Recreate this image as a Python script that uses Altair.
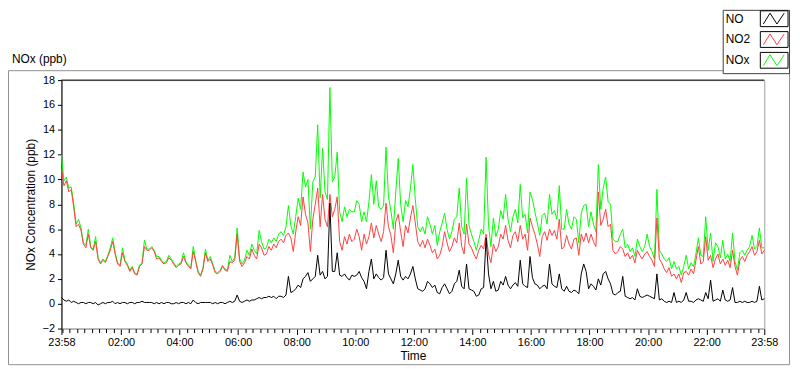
import altair as alt
import pandas as pd

# ---------------- data (5-minute samples from 23:58 to 23:58) ----------------
step_minutes = 5

no2_values = [
    10.8, 9.5, 9.9, 9.0, 9.2, 7.8, 6.2, 6.4, 5.9, 4.8, 4.5, 5.6,
    4.5, 4.3, 5.0, 3.6, 3.2, 3.5, 3.3, 3.8, 4.3, 5.0, 4.0, 3.2,
    3.0, 4.1, 3.4, 3.1, 2.6, 2.9, 2.4, 2.3, 3.0, 3.2, 4.6, 4.3,
    4.3, 4.5, 4.2, 3.6, 3.7, 3.4, 3.2, 3.3, 3.7, 3.5, 3.2, 2.9,
    3.1, 3.2, 3.8, 3.3, 3.0, 2.8, 4.2, 3.4, 2.5, 2.2, 2.8, 4.1,
    3.4, 3.6, 3.1, 2.5, 2.4, 2.6, 3.0, 2.7, 2.6, 3.4, 3.3, 3.5,
    5.6, 3.4, 3.0, 3.3, 3.8, 3.6, 4.4, 3.9, 3.6, 4.8, 4.5, 3.9,
    4.0, 4.6, 4.3, 4.8, 4.5, 5.0, 5.2, 4.9, 5.5, 5.7, 5.3, 4.2,
    5.8, 7.0, 6.3, 8.6, 7.2, 6.5, 4.2, 6.8, 8.0, 9.3, 6.2, 8.8,
    6.8, 6.2, 8.8, 7.0, 7.6, 8.6, 5.0, 4.3, 5.4, 4.8, 5.6, 5.0,
    5.2, 6.0, 5.4, 4.3, 5.6, 4.8, 5.4, 6.5, 5.3, 6.3, 5.6, 5.0,
    5.8, 8.1, 6.2, 5.5, 4.1, 6.6, 7.2, 5.8, 4.6, 6.3, 5.7, 6.9,
    7.9, 6.5, 5.0, 4.6, 5.1, 4.5, 5.2, 4.7, 4.1, 4.4, 3.6, 3.9,
    4.6, 5.8, 4.9, 4.2, 4.6, 5.3, 4.9, 6.5, 4.6, 4.0, 6.4, 4.8,
    4.5, 4.0, 3.6, 4.3, 4.7, 4.4, 5.6, 4.0, 3.3, 4.8, 4.2, 4.6,
    5.6, 5.2, 6.3, 5.1, 4.5, 5.5, 5.8, 5.0, 6.3, 5.2, 5.6, 4.3,
    6.9, 6.2, 5.6, 4.8, 3.8, 5.4, 5.8, 5.1, 6.0, 5.5, 5.9, 5.2,
    6.8, 4.4, 4.6, 5.5, 4.8, 4.4, 5.2, 5.3, 3.9, 5.6, 5.0, 5.7,
    4.9, 5.6, 5.0, 4.6, 9.0, 6.3, 6.8, 7.6, 6.2, 6.4, 4.3, 4.0,
    4.2, 4.6, 4.4, 3.8, 4.1, 3.6, 3.9, 3.3, 4.3, 3.9, 3.6, 4.0,
    4.2, 3.8, 3.5, 3.0, 6.9, 3.6, 3.3, 2.8, 2.5, 2.9, 2.2, 2.4,
    2.0, 2.4, 1.7, 2.5, 2.6, 2.3, 2.8, 2.4, 3.5, 4.6, 3.2, 3.4,
    5.4, 3.5, 3.9, 2.9, 3.6, 4.0, 3.2, 3.6, 3.1, 3.5, 2.9, 4.3,
    3.0, 2.3, 3.5, 3.8, 3.4, 3.9, 4.2, 4.6, 3.9, 4.2, 5.1, 4.0,
    4.3,
]

nox_values = [
    12.0, 9.9, 10.2, 9.3, 9.4, 8.1, 6.4, 6.8, 6.1, 4.9, 4.7, 6.0,
    4.6, 4.4, 5.4, 3.7, 3.3, 3.6, 3.4, 3.9, 4.5, 5.3, 4.1, 3.3,
    3.1, 4.5, 3.5, 3.2, 2.7, 3.0, 2.5, 2.4, 3.1, 3.3, 5.1, 4.4,
    4.4, 4.6, 4.3, 3.8, 3.8, 3.5, 3.3, 3.4, 3.9, 3.6, 3.3, 3.0,
    3.2, 3.3, 4.1, 3.4, 3.1, 2.9, 4.6, 3.5, 2.6, 2.3, 2.9, 4.4,
    3.5, 3.8, 3.2, 2.6, 2.5, 2.7, 3.1, 2.8, 2.7, 3.9, 3.4, 3.7,
    6.1, 3.6, 3.2, 3.5, 4.3, 3.9, 4.8, 4.3, 4.0, 5.9, 5.0, 4.4,
    4.5, 5.2, 4.9, 5.3, 5.0, 5.6, 5.8, 5.5, 6.2, 7.9, 6.3, 5.6,
    7.0, 8.5, 7.6, 10.6, 9.4, 10.0, 6.0, 9.8, 10.2, 14.4, 8.5, 12.5,
    9.0, 8.4, 17.4, 9.8, 10.2, 12.2, 7.4, 6.6, 7.8, 7.0, 7.6, 7.4,
    7.4, 8.3, 8.0, 6.6, 7.4, 6.6, 8.2, 10.4, 8.0, 9.9, 7.8, 7.6,
    7.9, 12.6, 8.6, 7.5, 6.0, 9.0, 11.7, 8.0, 6.6, 8.3, 7.8, 9.3,
    11.2, 8.4, 6.2, 5.8, 6.2, 5.6, 7.0, 6.4, 5.6, 6.3, 4.7, 5.8,
    6.5, 7.3, 6.0, 5.2, 5.8, 6.8, 7.0, 9.3, 6.2, 5.6, 10.1, 6.3,
    5.6, 5.0, 4.3, 5.1, 6.0, 5.6, 11.8, 6.3, 4.6, 6.9, 5.4, 6.0,
    7.5, 6.8, 8.8, 6.8, 5.8, 7.0, 7.6, 6.5, 9.6, 6.9, 7.2, 5.7,
    9.0, 8.4, 7.4, 6.5, 5.5, 7.1, 7.3, 6.4, 8.8, 7.2, 7.5, 6.8,
    9.5, 6.0, 6.0, 7.6, 6.4, 6.0, 7.0, 6.8, 4.9, 7.3, 7.9, 8.0,
    6.2, 7.4, 6.4, 5.8, 11.2, 7.6, 9.3, 10.2, 8.2, 8.0, 5.2, 5.0,
    5.0, 5.6, 6.0, 4.5, 4.8, 4.2, 4.5, 3.8, 5.2, 4.6, 4.2, 4.6,
    5.6, 4.6, 4.2, 3.6, 9.2, 4.3, 4.0, 3.6, 3.4, 3.7, 2.8, 3.4,
    2.8, 3.0, 2.3, 3.0, 3.9, 2.8, 3.3, 3.0, 4.0, 5.3, 3.9, 3.8,
    7.0, 4.3, 5.7, 3.4, 4.9, 4.6, 3.7, 5.1, 3.6, 4.0, 3.4, 5.7,
    3.4, 2.7, 4.1, 4.3, 3.9, 4.3, 4.6, 5.5, 4.4, 4.6, 6.1, 4.5,
    4.5,
]

no_values = [
    0.5, 0.3, 0.2, 0.3, 0.1, 0.2, 0.1, 0.0, 0.1, 0.1, 0.0, 0.1,
    0.1, 0.0, 0.1, -0.1, 0.0, 0.1, 0.0, 0.1, 0.1, 0.2, 0.0, 0.1,
    0.0, 0.1, 0.1, 0.0, 0.1, 0.1, 0.0, 0.1, 0.1, 0.2, 0.1, 0.1,
    0.1, 0.1, 0.0, 0.1, 0.0, 0.1, 0.0, 0.1, 0.1, 0.0, 0.0, 0.1,
    0.0, 0.1, 0.1, 0.0, 0.1, 0.0, 0.3, 0.1, 0.0, 0.1, 0.1, 0.1,
    0.1, 0.1, 0.0, 0.1, 0.0, 0.1, 0.1, 0.0, 0.1, 0.2, 0.1, 0.2,
    0.7, 0.2, 0.1, 0.2, 0.3, 0.2, 0.3, 0.3, 0.4, 0.5, 0.4, 0.5,
    0.5, 0.6, 0.5, 0.6, 0.4, 0.6, 0.6, 0.5, 0.7, 2.2, 0.9, 1.0,
    1.2, 1.5, 1.3, 2.0, 2.2, 2.5, 1.8, 2.0, 2.2, 3.9, 2.3, 2.6,
    2.0, 2.2, 8.1, 2.6, 2.6, 4.1, 2.3, 2.2, 2.4, 2.1, 1.9, 2.3,
    2.2, 2.3, 2.6, 2.1, 1.8, 1.2, 2.6, 3.6, 2.0, 2.4, 2.1, 1.9,
    2.1, 4.3, 2.4, 2.0, 1.6, 2.4, 3.5, 2.2, 1.9, 2.2, 2.0, 2.4,
    3.0, 2.0, 1.2, 1.1, 1.0, 1.2, 1.8, 1.6, 1.3, 1.5, 0.9, 0.8,
    1.3, 1.6, 1.2, 0.8, 1.0, 1.6, 1.8, 2.7, 1.4, 1.2, 3.2, 1.2,
    1.1, 1.0, 0.6, 0.7, 1.2, 1.3, 5.3, 2.4, 1.2, 1.8, 1.0, 1.1,
    1.8, 1.5, 2.2, 1.5, 1.2, 1.5, 1.7, 1.4, 3.5, 1.6, 1.4, 1.3,
    3.8, 2.1, 1.6, 1.5, 1.2, 1.4, 1.5, 1.2, 3.2, 1.6, 1.4, 1.3,
    2.4, 1.2, 1.0, 1.4, 1.0, 0.9, 1.1, 1.0, 0.8, 2.4, 3.2, 2.6,
    1.2, 1.6, 1.4, 1.1, 2.0, 1.5, 2.4, 2.6, 2.0, 1.6, 0.8, 0.7,
    0.9, 1.0, 2.2, 0.6, 0.5, 0.4, 0.5, 0.3, 1.2, 0.6, 0.5, 0.6,
    0.7, 0.6, 0.5, 0.4, 2.4, 0.3, 0.4, 0.2, 0.1, 0.2, 0.1, 0.9,
    0.1, 0.2, 0.1, 0.3, 0.9, 0.2, 0.2, 0.1, 0.3, 0.4, 0.3, 0.2,
    0.9, 0.4, 1.9, 0.2, 0.3, 0.4, 0.2, 1.1, 0.3, 0.2, 0.3, 1.3,
    0.1, 0.1, 0.2, 0.1, 0.2, 0.1, 0.1, 0.2, 0.1, 0.2, 1.4, 0.3,
    0.4,
]

series_names = ["NO", "NO2", "NOx"]
series_colors = ["#000000", "#ff4040", "#00ff00"]

major_tick_labels = ["23:58", "02:00", "04:00", "06:00", "08:00", "10:00", "12:00",
                     "14:00", "16:00", "18:00", "20:00", "22:00", "23:58"]
y_tick_values = [-2, 0, 2, 4, 6, 8, 10, 12, 14, 16, 18]

chart_title = "NOx (ppb)"
x_title = "Time"
y_title = "NOx Concentration (ppb)"

# ---------------- derived helpers ----------------
start_clock = 23 * 60 + 58
span = 24 * 60


def clock_to_offset(label, is_last):
    h, m = label.split(":")
    off = (int(h) * 60 + int(m) - start_clock) % span
    if is_last and off == 0:
        off = span
    return off


major_pos = [clock_to_offset(lab, i == len(major_tick_labels) - 1)
             for i, lab in enumerate(major_tick_labels)]
minor_pos = sorted({(q * 15 - start_clock) % span for q in range(96)} - set(major_pos))

label_expr = "[{}][indexof([{}], datum.value)]".format(
    ",".join("'{}'".format(s) for s in major_tick_labels),
    ",".join(str(p) for p in major_pos),
)

t_values = [i * step_minutes for i in range(len(no2_values))]
df_no2 = pd.DataFrame({"t": t_values, "v": no2_values})
df_nox = pd.DataFrame({"t": t_values, "v": nox_values})
df_no = pd.DataFrame({"t": t_values, "v": no_values})
legend_df = pd.DataFrame({"name": series_names, "color": series_colors})
one_row = pd.DataFrame({"k": [0]})

FONT = "Liberation Sans"
W, H = 710, 251

x_scale = alt.Scale(domain=[0, span], nice=False, zero=False)
y_scale = alt.Scale(domain=[-2, 18], nice=False, zero=False)

major_axis = alt.Axis(
    values=major_pos, labelExpr=label_expr, orient="bottom",
    tickSize=6, tickColor="black", tickWidth=1,
    domainColor="#a0a0a0", labelFontSize=11, labelColor="black",
    labelPadding=2, labelFlush=False, labelOverlap=False, grid=False,
    title=x_title, titleFontSize=12, titleFontWeight="normal",
    titleColor="black", titlePadding=3,
)
minor_axis = alt.Axis(
    values=minor_pos, labels=False, orient="bottom", tickSize=4,
    tickColor="black", domain=False, grid=False, title=None,
)
y_axis = alt.Axis(
    values=y_tick_values, tickSize=4, tickColor="black", domainColor="black",
    labelFontSize=11, labelColor="black", labelPadding=3, grid=False,
    title=y_title, titleFontSize=12, titleFontWeight="normal",
    titleColor="black", titlePadding=5,
)

frame = alt.Chart(one_row).mark_rect(fillOpacity=0, stroke="#909090", strokeWidth=1).encode(
    x=alt.value(-53.5), x2=alt.value(735.5), y=alt.value(-9.5), y2=alt.value(287.5)
)

green = alt.Chart(df_nox).mark_line(color=series_colors[2], strokeWidth=1).encode(
    x=alt.X("t:Q", scale=x_scale, axis=major_axis),
    y=alt.Y("v:Q", scale=y_scale, axis=y_axis),
)
red = alt.Chart(df_no2).mark_line(color=series_colors[1], strokeWidth=1).encode(
    x=alt.X("t:Q", scale=x_scale, axis=minor_axis),
    y=alt.Y("v:Q", scale=y_scale, axis=None),
)
black = alt.Chart(df_no).mark_line(color=series_colors[0], strokeWidth=1).encode(
    x=alt.X("t:Q", scale=x_scale, axis=None),
    y=alt.Y("v:Q", scale=y_scale, axis=None),
)

top_rule = alt.Chart(one_row).mark_rule(color="black", strokeWidth=1).encode(
    x=alt.value(0), x2=alt.value(W), y=alt.value(0)
)

legend_box = alt.Chart(one_row).mark_rect(fill="white", stroke="#404040", strokeWidth=1).encode(
    x=alt.value(668.5), x2=alt.value(735.5), y=alt.value(-70.5), y2=alt.value(-6.5)
)

ly = alt.Y("name:N", scale=alt.Scale(type="point", domain=series_names,
                                     range=[-62, -20], padding=0), axis=None)

legend_text = alt.Chart(legend_df).mark_text(
    align="left", baseline="middle", fontSize=12, color="black"
).encode(x=alt.value(671), y=ly, text="name:N")

rect_path = "M-1,-0.57L1,-0.57L1,0.57L-1,0.57Z"
zig_path = "M-0.78,0.38L-0.3,-0.4L0.2,0.38L0.72,-0.4"

legend_boxes = alt.Chart(legend_df).mark_point(
    shape=rect_path, size=784, filled=False, color="black", strokeWidth=1, opacity=1
).encode(x=alt.value(720), y=ly)

legend_zig = alt.Chart(legend_df).mark_point(
    shape=zig_path, size=784, filled=False, strokeWidth=1, opacity=1
).encode(
    x=alt.value(720), y=ly,
    color=alt.Color("name:N", scale=alt.Scale(domain=series_names, range=series_colors), legend=None),
)

title_text = alt.Chart(one_row).mark_text(
    align="left", baseline="middle", fontSize=12, color="black"
).encode(x=alt.value(-50), y=alt.value(-21), text=alt.value(chart_title))

chart = alt.layer(
    frame, green, red, black, top_rule, legend_box, legend_text, legend_boxes, legend_zig, title_text
).resolve_scale(
    y="independent"
).resolve_axis(
    x="independent", y="independent"
).properties(
    width=W, height=H,
    autosize=alt.AutoSizeParams(type="none"),
    padding={"left": 54, "top": 71, "right": 28, "bottom": 38},
).configure(
    font=FONT
).configure_view(
    stroke="#a0a0a0", strokeWidth=1
)

chart.save("out.html", embed_options={"renderer": "svg", "actions": False})
